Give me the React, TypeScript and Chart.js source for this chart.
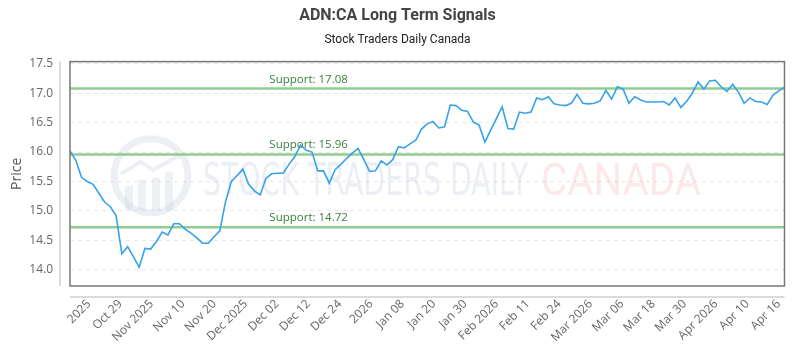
import React, { useEffect, useRef } from 'react';
import { Chart, registerables } from 'chart.js';

Chart.register(...registerables);

const titleText = 'ADN:CA Long Term Signals';
const subtitleText = 'Stock Traders Daily Canada';
const yAxisTitle = 'Price';

const prices = [
  16.02, 15.86, 15.57, 15.5, 15.45, 15.3, 15.15, 15.07, 14.92, 14.27,
  14.39, 14.22, 14.04, 14.36, 14.35, 14.48, 14.64, 14.59, 14.78, 14.78,
  14.69, 14.62, 14.54, 14.45, 14.45, 14.56, 14.66, 15.16, 15.5, 15.6,
  15.71, 15.45, 15.34, 15.27, 15.55, 15.63, 15.64, 15.64, 15.79, 15.92,
  16.12, 16.03, 16.0, 15.68, 15.68, 15.47, 15.7, 15.79, 15.89, 15.98,
  16.06, 15.87, 15.67, 15.68, 15.85, 15.78, 15.87, 16.09, 16.07, 16.14,
  16.2, 16.39, 16.48, 16.52, 16.41, 16.43, 16.8, 16.79, 16.71, 16.69,
  16.51, 16.46, 16.17, 16.37, 16.57, 16.77, 16.4, 16.39, 16.68, 16.66,
  16.68, 16.92, 16.89, 16.94, 16.82, 16.8, 16.79, 16.83, 16.98, 16.83,
  16.82, 16.83, 16.87, 17.05, 16.9, 17.11, 17.07, 16.83, 16.94, 16.89,
  16.85, 16.85, 16.85, 16.86, 16.8, 16.92, 16.76, 16.86, 17.0, 17.19,
  17.07, 17.21, 17.22, 17.11, 17.03, 17.15, 17.02, 16.83, 16.92, 16.86,
  16.85, 16.81, 16.97, 17.04, 17.1,
];

const supportLevels = [17.08, 15.96, 14.72];

const xTickLabels = [
  '2025', 'Oct 29', 'Nov 2025', 'Nov 10', 'Nov 20', 'Dec 2025', 'Dec 02', 'Dec 12',
  'Dec 24', '2026', 'Jan 08', 'Jan 20', 'Jan 30', 'Feb 2026', 'Feb 11', 'Feb 24',
  'Mar 2026', 'Mar 06', 'Mar 18', 'Mar 30', 'Apr 2026', 'Apr 10', 'Apr 16',
];
// fractional point index at which the first and last date label sit
const xTickFirstIndex = 3.3;
const xTickLastIndex = 123.0;

const yTicks = [14.0, 14.5, 15.0, 15.5, 16.0, 16.5, 17.0, 17.5];

const FONT = '"Open Sans", "Noto Sans", sans-serif';

export default function App() {
  const canvasRef = useRef<HTMLCanvasElement | null>(null);

  useEffect(() => {
    const canvas = canvasRef.current;
    if (!canvas) return;
    const N = prices.length;
    const dMin = Math.min(...prices);
    const dMax = Math.max(...prices);
    const pad = (dMax - dMin) * 0.1;

    const decor = {
      id: 'decor',
      beforeDatasetsDraw(chart: any) {
        const { ctx, chartArea } = chart;
        const { left, top, bottom } = chartArea;
        const cy = (top + bottom) / 2;
        ctx.save();
        // logo ring
        const lx = left + 81;
        const ly = cy + 2;
        ctx.strokeStyle = 'rgba(185,196,214,0.28)';
        ctx.lineWidth = 7;
        ctx.beginPath();
        ctx.arc(lx, ly, 37, 0, Math.PI * 2);
        ctx.stroke();
        ctx.fillStyle = 'rgba(185,196,214,0.25)';
        const bars = [[-26, 10], [-13, 4], [1, 2], [14, -4]];
        bars.forEach(([dx, dy]) => {
          ctx.fillRect(lx + dx, ly + dy, 8, 34 - dy);
        });
        ctx.lineWidth = 4;
        ctx.beginPath();
        ctx.moveTo(lx - 30, ly - 2);
        ctx.lineTo(lx - 10, ly - 14);
        ctx.lineTo(lx + 2, ly - 6);
        ctx.lineTo(lx + 28, ly - 20);
        ctx.stroke();
        // watermark text
        ctx.textBaseline = 'alphabetic';
        ctx.textAlign = 'left';
        ctx.font = '44px "DejaVu Sans Condensed", "Liberation Sans Narrow", sans-serif';
        const t1 = 'STOCK TRADERS DAILY';
        const w1 = ctx.measureText(t1).width;
        ctx.save();
        ctx.translate(left + 133, cy + 21);
        ctx.scale(325 / w1, 1);
        ctx.fillStyle = 'rgba(165,178,204,0.22)';
        ctx.fillText(t1, 0, 0);
        ctx.restore();
        ctx.font = '44px Roboto, sans-serif';
        const t2 = 'CANADA';
        const w2 = ctx.measureText(t2).width;
        ctx.save();
        ctx.translate(left + 471, cy + 21);
        ctx.scale(160 / w2, 1);
        ctx.fillStyle = 'rgba(240,90,100,0.14)';
        ctx.fillText(t2, 0, 0);
        ctx.restore();
        ctx.restore();
      },
      afterDatasetsDraw(chart: any) {
        const { ctx, chartArea, scales } = chart;
        ctx.save();
        ctx.font = '11.5px ' + FONT;
        ctx.fillStyle = '#3a7f3a';
        ctx.textAlign = 'left';
        ctx.textBaseline = 'alphabetic';
        const lx = chartArea.left + chartArea.width * 0.279;
        supportLevels.forEach((s) => {
          const py = scales.y.getPixelForValue(s);
          ctx.fillText('Support: ' + s.toFixed(2), lx, py - 6);
        });
        ctx.restore();
      },
      afterDraw(chart: any) {
        const { ctx, chartArea } = chart;
        const { left, top, right, bottom } = chartArea;
        ctx.save();
        ctx.strokeStyle = '#cfcfcf';
        ctx.lineWidth = 1.5;
        ctx.beginPath();
        ctx.moveTo(left - 10, top);
        ctx.lineTo(left - 10, bottom);
        ctx.moveTo(left, bottom + 11);
        ctx.lineTo(right, bottom + 11);
        ctx.stroke();
        ctx.strokeStyle = '#777';
        ctx.lineWidth = 1.5;
        ctx.strokeRect(left, top, right - left, bottom - top);
        ctx.restore();
      },
    };

    const chart = new Chart(canvas, {
      type: 'line',
      data: {
        datasets: [
          {
            data: prices.map((v, i) => ({ x: i, y: v })),
            borderColor: '#36a2eb',
            borderWidth: 1.6,
            pointRadius: 0,
            tension: 0,
            fill: false,
          },
          ...supportLevels.map((s) => ({
            data: [
              { x: 0, y: s },
              { x: N - 1, y: s },
            ],
            borderColor: 'rgba(125,196,125,0.85)',
            borderWidth: 2.5,
            pointRadius: 0,
            fill: false,
          })),
        ],
      },
      options: {
        animation: false,
        responsive: true,
        maintainAspectRatio: false,
        layout: { padding: { left: 5, right: 10, top: 0, bottom: 0 } },
        plugins: {
          legend: { display: false },
          tooltip: { enabled: false },
          title: {
            display: true,
            text: titleText,
            color: '#444',
            font: { family: 'Roboto, sans-serif', size: 16, weight: 'bold' },
            padding: { top: 6, bottom: 6 },
          },
          subtitle: {
            display: true,
            text: subtitleText,
            color: '#222',
            font: { family: 'Roboto, sans-serif', size: 12 },
            padding: { top: 2, bottom: 14 },
          },
        },
        scales: {
          x: {
            type: 'linear',
            min: 0,
            max: N - 1,
            bounds: 'data',
            grid: { display: false, drawTicks: false },
            border: { display: false },
            afterBuildTicks: (scale: any) => {
              const step = (xTickLastIndex - xTickFirstIndex) / (xTickLabels.length - 1);
              scale.ticks = xTickLabels.map((_, j) => ({ value: xTickFirstIndex + j * step }));
            },
            afterFit: (scale: any) => {
              scale.height = 64;
            },
            ticks: {
              autoSkip: false,
              maxRotation: 45,
              minRotation: 45,
              padding: 11,
              color: '#666',
              font: { family: FONT, size: 12 },
              callback: (_v: any, i: number) => xTickLabels[i],
            },
          },
          y: {
            type: 'linear',
            min: dMin - pad,
            max: dMax + pad,
            bounds: 'data',
            grid: { color: 'rgba(0,0,0,0.09)', drawTicks: false, lineWidth: 1 },
            border: { display: false, dash: [4, 4] },
            afterBuildTicks: (scale: any) => {
              scale.ticks = yTicks.map((v) => ({ value: v }));
            },
            afterFit: (scale: any) => {
              scale.width = 65;
            },
            title: {
              display: true,
              text: yAxisTitle,
              color: '#555',
              font: { family: FONT, size: 14 },
              padding: { top: 4, bottom: 4 },
            },
            ticks: {
              padding: 17,
              color: '#666',
              font: { family: FONT, size: 12 },
              callback: (v: any) => Number(v).toFixed(1),
            },
          },
        },
      },
      plugins: [decor],
    } as any);

    return () => chart.destroy();
  }, []);

  return (
    <div style={{ position: 'absolute', left: 0, top: 0, width: 800, height: 350, background: '#fff' }}>
      <canvas ref={canvasRef} />
    </div>
  );
}
